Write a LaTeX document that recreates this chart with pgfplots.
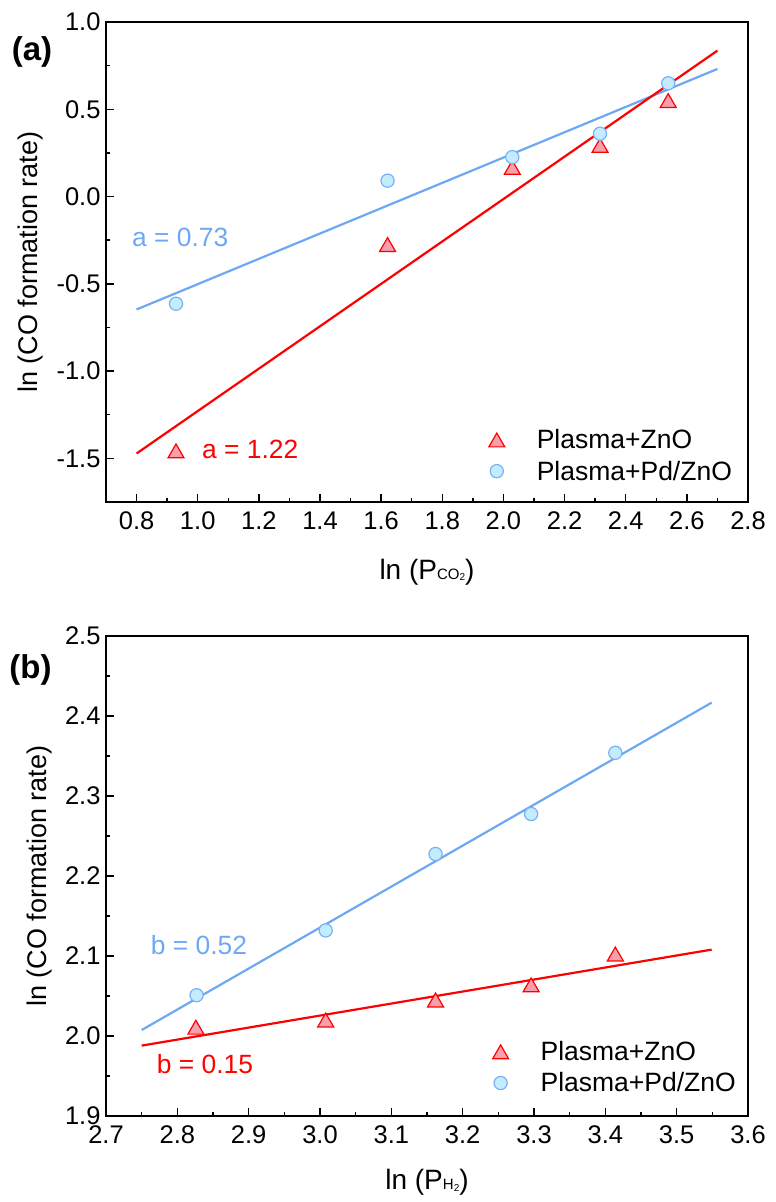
\documentclass[border=0pt]{standalone}
\usepackage{pgfplots}
\pgfplotsset{compat=1.18}
\usepackage{fontspec}
\setmainfont{Liberation Sans}
\definecolor{myred}{RGB}{255,0,0}
\definecolor{trifill}{RGB}{245,160,172}
\definecolor{lineblue}{RGB}{110,168,245}
\definecolor{circfill}{RGB}{196,236,255}
\definecolor{circedge}{RGB}{120,178,245}
\newcommand{\fsz}[1]{\fontsize{#1bp}{#1bp}\selectfont}
\pgfplotsset{
  myaxis/.style={
    scale only axis, width=642bp, height=480bp,
    anchor=south west,
    axis line style={line width=1.7bp},
    tick pos=left, tick align=inside,
    major tick length=8bp, minor tick length=4bp,
    every tick/.style={black, line width=1.4bp},
    minor x tick num=1, minor y tick num=1,
    tick label style={font=\fsz{25.5}},
    /pgf/number format/assume math mode=true,
    xticklabel style={/pgf/number format/fixed, /pgf/number format/fixed zerofill, /pgf/number format/precision=1, yshift=-6bp},
    yticklabel style={/pgf/number format/fixed, /pgf/number format/fixed zerofill, /pgf/number format/precision=1, xshift=-2bp},
    ylabel={ln (CO formation rate)},
    ylabel style={font=\fsz{27}, anchor=center},
    xlabel style={font=\fsz{28}, anchor=center},
    legend cell align=left,
    legend style={draw=none, fill=none, font=\fsz{26.5}, anchor=south east,
      /tikz/column sep=30bp, /tikz/row sep=6.5bp},
  },
  trimarks/.style={only marks, mark=triangle*, mark size=9.2bp,
    mark options={draw=myred, fill=trifill, line width=1.2bp, yshift=-2.3bp}},
  circmarks/.style={only marks, mark=*, mark size=6.6bp,
    mark options={draw=circedge, fill=circfill, line width=1.2bp}},
}
\begin{document}
\begin{tikzpicture}
\path[use as bounding box] (0,0) rectangle (776bp,-1202bp);
% ---------------- (a)
\begin{axis}[myaxis, at={(106bp,-502bp)},
  xmin=0.7, xmax=2.8, ymin=-1.75, ymax=1.0,
  xtick={0.8,1.0,1.2,1.4,1.6,1.8,2.0,2.2,2.4,2.6,2.8},
  ytick={-1.5,-1.0,-0.5,0.0,0.5,1.0},
  xlabel={ln (P{\fsz{15}CO\raisebox{-1.5bp}{\fsz{10}2}})},
  xlabel style={at={(axis description cs:0.5,-0.146)}},
  ylabel style={at={(axis description cs:-0.1168,0.5)}},
  legend style={at={(axis description cs:0.983,0.034)}},
]
\addplot[trimarks] coordinates {(0.929,-1.457) (1.621,-0.275) (2.029,0.167) (2.316,0.293) (2.539,0.550)};
\addlegendentry{Plasma+ZnO}
\addplot[circmarks] coordinates {(0.929,-0.614) (1.621,0.091) (2.029,0.226) (2.316,0.360) (2.539,0.649)};
\addlegendentry{Plasma+Pd/ZnO}
\addplot[lineblue, line width=2.2bp, forget plot] coordinates {(0.8,-0.647) (2.7,0.731)};
\addplot[myred, line width=2.2bp, forget plot] coordinates {(0.8,-1.472) (2.7,0.836)};
\node[anchor=west, inner sep=0pt, text=lineblue, font=\fsz{26.4}] at (axis cs:0.785,-0.235) {a = 0.73};
\node[anchor=west, inner sep=0pt, text=myred, font=\fsz{26.4}] at (axis cs:1.014,-1.447) {a = 1.22};
\end{axis}
\node[font=\bfseries\fsz{33}] at (32bp,-52bp) {(a)};
% ---------------- (b)
\begin{axis}[myaxis, at={(106bp,-1116bp)},
  xmin=2.7, xmax=3.6, ymin=1.9, ymax=2.5,
  xtick={2.7,2.8,2.9,3.0,3.1,3.2,3.3,3.4,3.5,3.6},
  ytick={1.9,2.0,2.1,2.2,2.3,2.4,2.5},
  xlabel={ln (P{\fsz{15}H\raisebox{-1.5bp}{\fsz{10}2}})},
  xlabel style={at={(axis description cs:0.5,-0.139)}},
  ylabel style={at={(axis description cs:-0.1033,0.5)}},
  legend style={at={(axis description cs:0.989,0.0385)}},
]
\addplot[trimarks] coordinates {(2.826,2.011) (3.008,2.020) (3.162,2.045) (3.296,2.064) (3.414,2.1025)};
\addlegendentry{Plasma+ZnO}
\addplot[circmarks] coordinates {(2.827,2.051) (3.008,2.132) (3.162,2.2275) (3.296,2.2775) (3.414,2.354)};
\addlegendentry{Plasma+Pd/ZnO}
\addplot[lineblue, line width=2.2bp, forget plot] coordinates {(2.75,2.0075) (3.549,2.4167)};
\addplot[myred, line width=2.2bp, forget plot] coordinates {(2.75,1.988) (3.549,2.108)};
\node[anchor=west, inner sep=0pt, text=lineblue, font=\fsz{26.4}] at (axis cs:2.7627,2.1138) {b = 0.52};
\node[anchor=west, inner sep=0pt, text=myred, font=\fsz{26.4}] at (axis cs:2.771,1.9648) {b = 0.15};
\end{axis}
\node[font=\bfseries\fsz{33}] at (30.5bp,-670bp) {(b)};
\end{tikzpicture}
\end{document}
